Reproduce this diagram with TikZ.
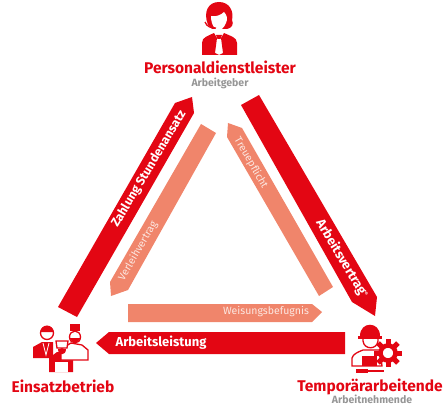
\documentclass[tikz,border=0pt]{standalone}
\usepackage{fontspec}
\setmainfont{Fira Sans}
\definecolor{tempred}{RGB}{227,6,19}
\definecolor{tempsalmon}{RGB}{240,133,107}
\definecolor{tempgray}{RGB}{150,150,150}
\tikzstyle{mainarrow}=[fill=tempred,draw=none]
\tikzstyle{softarrow}=[fill=tempsalmon,draw=none]
\tikzstyle{party}=[text=tempred,font=\bfseries\fontsize{15.5}{16}\selectfont,inner sep=0pt]
\tikzstyle{role}=[text=tempgray,font=\bfseries\fontsize{10.5}{11}\selectfont,inner sep=0pt]
\tikzstyle{mainlabel}=[text=white,font=\bfseries\fontsize{13}{14}\selectfont,inner sep=0pt]
\tikzstyle{softlabel}=[text=white!80!tempsalmon,font=\fontsize{10.5}{11}\selectfont,inner sep=0pt]
\tikzstyle{icon}=[fill=tempred,draw=none]
\tikzstyle{iconline}=[draw=tempred,line width=1.3pt,fill=white]
\tikzstyle{iconcut}=[fill=white,draw=none]

\begin{document}
\begin{tikzpicture}[x=1pt,y=-1pt]
	\useasboundingbox (0,0) rectangle (443,406);

	% arrows
	\fill [mainarrow] (58,307) -- (175,103) -- (192,97) -- (194,113) -- (77,317) -- cycle;
	\fill [mainarrow] (241,105) -- (259,95) -- (377,297) -- (375,316) -- (352,302) -- cycle;
	\fill [mainarrow] (345,332) -- (109,332) -- (96,343) -- (109,354) -- (345,354) -- cycle;
	\fill [softarrow] (201,124) -- (216,133) -- (128,290) -- (111,296) -- (110,282) -- cycle;
	\fill [softarrow] (228,123) -- (242,128) -- (333,287) -- (319,296) -- (227,137) -- cycle;
	\fill [softarrow] (128,304) -- (312,304) -- (322,312) -- (312,322) -- (128,322) -- cycle;

	% arrow labels
	\node [mainlabel, rotate=59, font=\bfseries\fontsize{12.4}{13}\selectfont] (payment) at (149,169) {Zahlung Stundenansatz};
	\node [mainlabel, rotate=-59] (contract) at (342,259) {Arbeitsvertrag\textsuperscript{\tiny ®}};
	\node [mainlabel]             (labour)   at (161,343) {Arbeitsleistung};
	\node [softlabel, rotate=60]  (lease)    at (138,251) {Verleihvertrag};
	\node [softlabel, rotate=-60] (loyalty)  at (251,163) {Treuepflicht};
	\node [softlabel]             (orders)   at (266,312) {Weisungsbefugnis};

	% parties
	\node [party] (agency)  at (220,67)  {Personaldienstleister};
	\node [role]  (agencyrole) at (220,83) {Arbeitgeber};
	\node [party] (client)  at (63,386)  {Einsatzbetrieb};
	\node [party] (worker)  at (370,387) {Temporärarbeitende};
	\node [role]  (workerrole) at (372,399.5) {Arbeitnehmende};

	% headset agent
	\fill [icon] (208,25) .. controls (203,12) and (208,2) .. (219,2) .. controls (230,2) and (234,12) .. (232,20) .. controls (234,24) and (232,28) .. (227,29) -- (212,29) -- cycle;
	\fill [iconcut] (211,16) .. controls (216,17) and (221,15) .. (224,12) .. controls (227,15) and (228,19) .. (226,23) .. controls (224,28) and (221,30) .. (219,30) .. controls (215,30) and (211,25) .. (211,16) -- cycle;
	\draw [tempred, line width=1.3pt] (205,22) .. controls (207,27) and (211,28) .. (216,28);
	\fill [icon] (202,55) -- (202,43) .. controls (202,37) and (208,36) .. (214,33) -- (217,38) -- (215,53) -- (219,55) -- (223,53) -- (221,38) -- (224,33) .. controls (230,36) and (237,37) .. (237,43) -- (237,55) -- cycle;
	\fill [icon] (216,35) -- (222,35) -- (220.5,39) -- (217.5,39) -- cycle;

	% client group
	\fill [icon] (33,358) -- (33,347) -- (42,342) -- (53,342) -- (53,358) -- cycle;
	\draw [white, line width=0.8pt] (43,343) -- (46,355) -- (49,343);
	\draw [iconline] (47,333) circle (6.5);
	\fill [icon] (40.5,332) arc (180:360:6.5) -- cycle;
	\fill [icon] (49,372) -- (49,358) -- (57,352) -- (66,352) -- (73,358) -- (73,372) -- cycle;
	\fill [iconcut] (55,362) rectangle (68,372);
	\draw [iconline] (61,360) -- (61,349) -- (71,343) -- (82,345) -- (88,350) -- (88,360) -- cycle;
	\draw [iconline] (56,341) -- (68,341) -- (67,348) -- (57,348) -- cycle;
	\fill [icon] (58,349) .. controls (58,356) and (66,356) .. (66,349) -- cycle;
	\fill [icon] (70,324) -- (80,324) -- (80,331) -- (70,331) -- cycle;
	\draw [iconline] (75,337) ellipse (5.5 and 6);
	\fill [icon] (69.5,338) .. controls (72,344) and (78,344) .. (80.5,338) -- cycle;

	% worker with gear
	\draw [iconline] (352,366) -- (352,358) .. controls (353,354) and (358,352) .. (363,350) -- (380,350) -- (382,366) -- cycle;
	\fill [icon] (362,356) rectangle (377,366);
	\draw [iconline] (363,338) -- (363,341) .. controls (364,350) and (377,350) .. (378,341) -- (378,338);
	\fill [icon] (360,336) .. controls (360,321) and (380,321) .. (380,336) -- cycle;
	\fill [icon] (358,336) rectangle (382,339);
	\fill [icon] (356,369) rectangle (368,373);
	\draw [tempred, line width=1.3pt] (368,371) -- (384,371);
	\foreach \tooth in {0,45,...,315}
		\fill [icon, rotate around={\tooth:(388,353)}] (385.5,339) rectangle (390.5,346);
	\draw [tempred, line width=4.5pt, fill=white] (388,353) circle (7.5);
\end{tikzpicture}
\end{document}
